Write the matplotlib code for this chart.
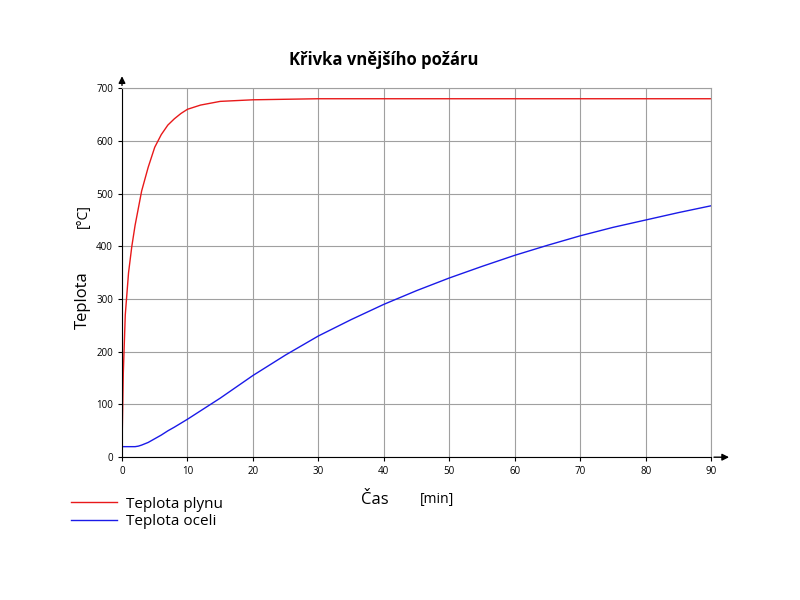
import matplotlib
matplotlib.use("Agg")
import matplotlib.pyplot as plt

plt.rcParams['font.family'] = ['Open Sans', 'DejaVu Sans']

t_gas = [0, 0.2, 0.5, 1, 1.5, 2, 3, 4, 5, 6, 7, 8, 9, 10, 12, 15, 20, 25, 30, 50, 90]
T_gas = [20, 160, 270, 350, 400, 440, 505, 550, 588, 612, 630, 642, 652, 660, 668, 675, 678, 679, 680, 680, 680]
t_steel = [0, 1, 2, 2.5, 3, 4, 5, 6, 7, 8, 10, 12, 15, 20, 25, 30, 35, 40, 45, 50, 55, 60, 65, 70, 75, 80, 85, 90]
T_steel = [20, 20, 20, 21, 23, 28, 35, 42, 50, 57, 72, 88, 112, 155, 194, 230, 261, 290, 316, 340, 362, 383, 402, 420, 436, 450, 464, 477]

fig = plt.figure(figsize=(8, 6), dpi=100)
ax = fig.add_axes([0.1525, 0.238, 0.7365, 0.615])
l1, = ax.plot(t_gas, T_gas, color='#e8191a', lw=1)
l2, = ax.plot(t_steel, T_steel, color='#1a1ae8', lw=1)
ax.set_xlim(0, 90)
ax.set_ylim(0, 700)
ax.set_xticks(range(0, 91, 10))
ax.set_yticks(range(0, 701, 100))
ax.grid(True, color='#a0a0a0', lw=0.8)
ax.tick_params(labelsize=7, length=3)
for s in ['top', 'right']:
    ax.spines[s].set_color('#a0a0a0')
ax.annotate('', xy=(0, 1.04), xytext=(0, 1), xycoords='axes fraction',
            arrowprops=dict(arrowstyle='-|>', color='black', lw=1))
ax.annotate('', xy=(1.035, 0), xytext=(1, 0), xycoords='axes fraction',
            arrowprops=dict(arrowstyle='-|>', color='black', lw=1))
fig.text(0.48, 0.9, 'Křivka vnějšího požáru', ha='center', va='center', fontsize=12, fontweight='bold')
fig.text(0.104, 0.5, 'Teplota', rotation=90, ha='center', va='center', fontsize=12)
fig.text(0.104, 0.64, '[°C]', rotation=90, ha='center', va='center', fontsize=10)
fig.text(0.468, 0.167, 'Čas', ha='center', va='center', fontsize=12)
fig.text(0.546, 0.167, '[min]', ha='center', va='center', fontsize=10)
fig.legend([l1, l2], ['Teplota plynu', 'Teplota oceli'], loc='upper left',
           bbox_to_anchor=(0.072, 0.195), frameon=False, fontsize=11,
           handlelength=3.0, handletextpad=0.6, labelspacing=0.15)
fig.savefig('out.png')
